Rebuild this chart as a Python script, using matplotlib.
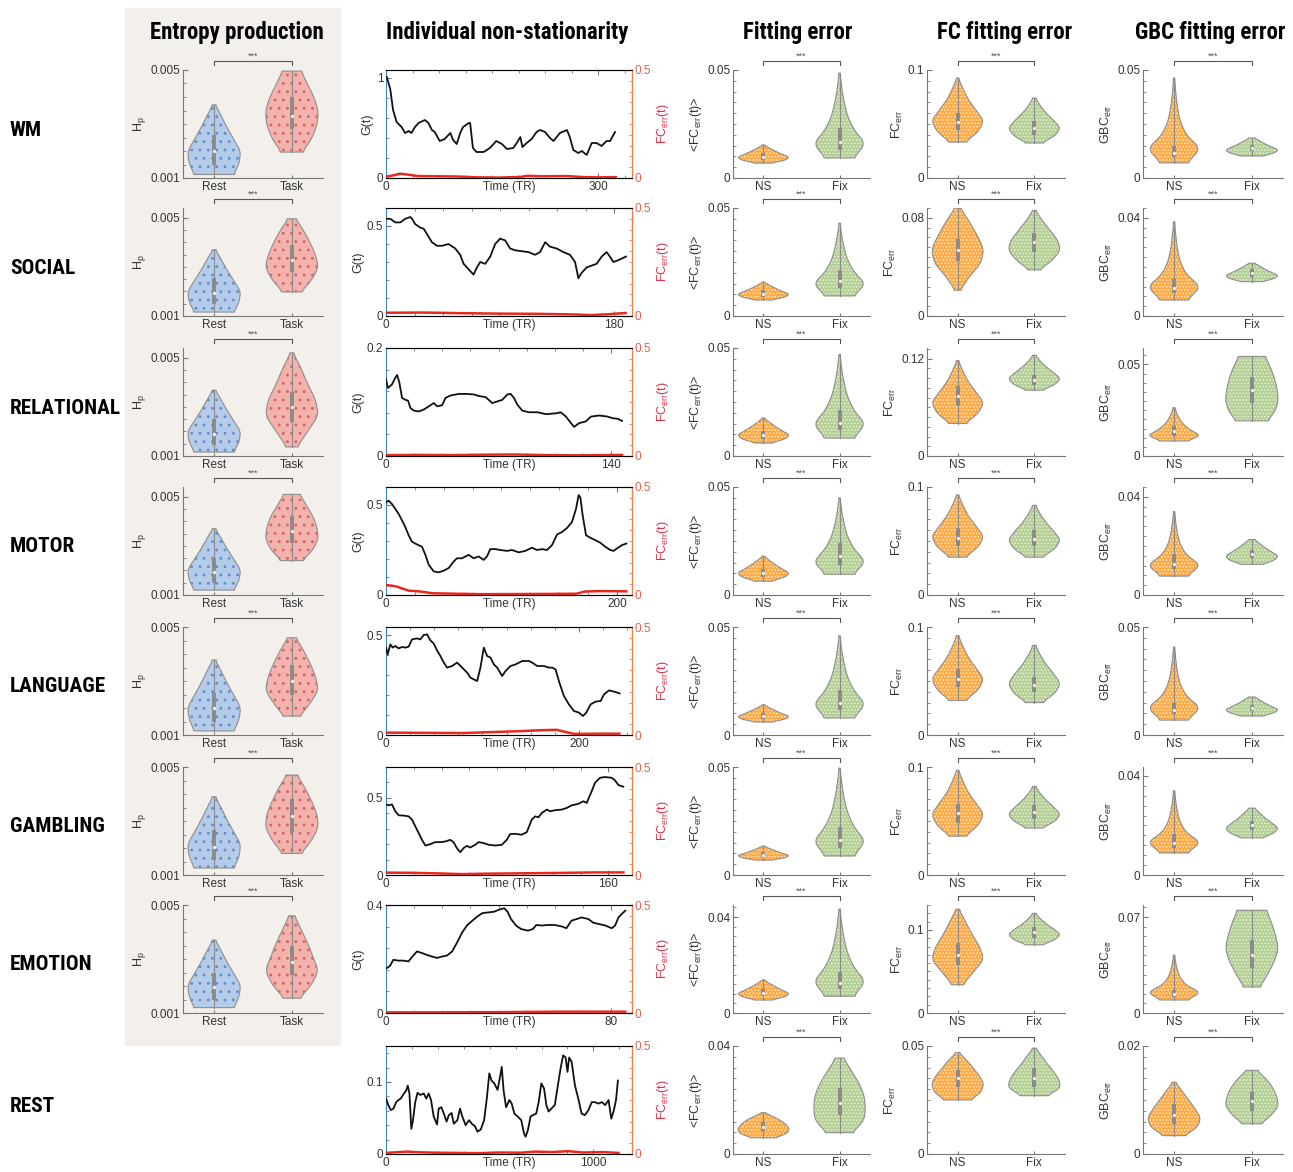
import numpy as np
import matplotlib
matplotlib.use('Agg')
import matplotlib.pyplot as plt
import matplotlib.transforms as mtransforms
from matplotlib import font_manager as fm
from matplotlib.patches import Rectangle
from matplotlib.ticker import MultipleLocator, FixedLocator

plt.rcParams['font.family'] = ['Liberation Sans', 'DejaVu Sans']
plt.rcParams['hatch.linewidth'] = 0.8

rows = ['WM', 'SOCIAL', 'RELATIONAL', 'MOTOR', 'LANGUAGE', 'GAMBLING', 'EMOTION', 'REST']
titles = ['Entropy production', 'Individual non-stationarity', 'Fitting error',
          'FC fitting error', 'GBC fitting error']

# ---------------- individual non-stationarity: G(t) ----------------
wm_t = [1, 6, 10, 15, 22, 27, 32, 36, 41, 46, 55, 60, 65, 69, 76, 83, 91, 95, 100, 105, 109,
        117, 119, 123, 128, 138, 147, 156, 164, 171, 180, 185, 190, 193, 199, 206, 213, 218,
        225, 232, 237, 246, 256, 260, 265, 272, 277, 284, 291, 298, 305, 312, 317, 324]
wm_g = [1.01, 0.89, 0.68, 0.56, 0.51, 0.45, 0.47, 0.45, 0.51, 0.55, 0.58, 0.55, 0.48, 0.46,
        0.37, 0.39, 0.45, 0.38, 0.34, 0.45, 0.51, 0.55, 0.55, 0.30, 0.26, 0.26, 0.30, 0.37,
        0.34, 0.29, 0.30, 0.35, 0.41, 0.31, 0.35, 0.39, 0.46, 0.48, 0.46, 0.40, 0.37, 0.45,
        0.48, 0.41, 0.28, 0.25, 0.27, 0.23, 0.35, 0.35, 0.32, 0.37, 0.37, 0.46]
social_t = [0, 3.4, 7.3, 11.3, 15.2, 19.2, 20.5, 23.1, 27.3, 29.7, 33.6, 36.2, 40.2, 44.1, 49.3,
            54.6, 58.5, 61.2, 65.1, 69, 71.7, 74.3, 78.2, 82.2, 86.1, 90, 94, 97.9, 101.8,
            107.1, 112.3, 117.6, 121.5, 125.5, 129.4, 134.6, 139.9, 145.1, 149.1, 151.7,
            154.3, 158.3, 162.2, 166.1, 170.1, 174, 176.6, 179.3, 183.2, 189.2]
social_g = [0.54, 0.54, 0.52, 0.52, 0.54, 0.55, 0.54, 0.51, 0.49, 0.485, 0.44, 0.41, 0.39,
            0.39, 0.40, 0.375, 0.34, 0.29, 0.26, 0.23, 0.27, 0.30, 0.29, 0.33, 0.40, 0.43,
            0.42, 0.375, 0.365, 0.36, 0.355, 0.34, 0.355, 0.41, 0.385, 0.375, 0.355, 0.34,
            0.30, 0.21, 0.24, 0.27, 0.28, 0.29, 0.33, 0.355, 0.33, 0.30, 0.31, 0.33]
relational_t = [0, 1.2, 3.7, 5.8, 6.9, 8.3, 10, 12.1, 13.7, 15.2, 17.3, 20.4, 23.5, 26.6,
                29.7, 31.8, 34.9, 37, 40.1, 45.3, 49.5, 54.7, 57.8, 62, 66.1, 69.2, 72.3,
                75.5, 77.5, 79.6, 81.7, 84.8, 89, 94.2, 99.4, 105.6, 108.7, 111.9, 115, 117,
                120.2, 124.3, 127.4, 132.6, 137.8, 141, 144.1, 146.8]
relational_g = [0.142, 0.126, 0.1325, 0.145, 0.150, 0.136, 0.1075, 0.104, 0.1025, 0.089,
                0.084, 0.0825, 0.086, 0.092, 0.098, 0.092, 0.094, 0.1075, 0.112, 0.115,
                0.115, 0.114, 0.111, 0.109, 0.098, 0.101, 0.104, 0.114, 0.115, 0.1075, 0.095,
                0.084, 0.081, 0.081, 0.0775, 0.079, 0.081, 0.073, 0.061, 0.054, 0.061, 0.064,
                0.073, 0.075, 0.073, 0.070, 0.069, 0.065]
motor_t = [0, 2.3, 5.2, 8.1, 11, 13.9, 16.7, 19.6, 22.5, 26.8, 31.2, 34.1, 37, 41.3, 45.6,
           49.9, 54.3, 58.6, 61.5, 65.8, 71.6, 75.9, 80.2, 84.6, 87.4, 90.3, 94.7, 99, 104.8,
           109.1, 114.9, 120.6, 126.4, 130.7, 135.1, 139.4, 143.7, 148.1, 152.4, 156.7, 161,
           164.5, 166.8, 168.3, 170.3, 173.2, 176.9, 181.2, 185.6, 189.9, 194.2, 197.1, 200,
           204.3, 208.1]
motor_g = [0.515, 0.524, 0.505, 0.478, 0.45, 0.414, 0.378, 0.332, 0.296, 0.281, 0.268, 0.223,
           0.168, 0.131, 0.126, 0.135, 0.15, 0.186, 0.204, 0.204, 0.223, 0.204, 0.214, 0.195,
           0.214, 0.255, 0.255, 0.25, 0.245, 0.25, 0.237, 0.245, 0.263, 0.25, 0.255, 0.25,
           0.277, 0.336, 0.35, 0.372, 0.405, 0.478, 0.555, 0.542, 0.442, 0.332, 0.318, 0.305,
           0.29, 0.268, 0.25, 0.245, 0.259, 0.277, 0.286]
language_t = [0, 1.7, 4.5, 6.9, 9.7, 13.1, 16.6, 20.1, 23.5, 27, 32.2, 35.6, 39.1, 42.6, 46,
              49.5, 52.9, 56.4, 59.9, 63.3, 68.5, 73.7, 78.9, 84.1, 87.5, 91, 94.5, 97.9,
              101.4, 104.8, 108.3, 111.8, 115.2, 120.4, 123.9, 129.1, 134.3, 141.2, 148.1,
              151.6, 156.7, 163.7, 168.9, 172.3, 175.8, 179.2, 184.4, 189.6, 194.8, 200,
              204.2, 207.6, 212.1, 217.3, 222.5, 226, 231.1, 236.3, 242.2]
language_g = [0.437, 0.403, 0.453, 0.437, 0.445, 0.433, 0.44, 0.437, 0.442, 0.478, 0.483,
              0.478, 0.50, 0.503, 0.473, 0.457, 0.423, 0.395, 0.362, 0.337, 0.345, 0.362,
              0.337, 0.312, 0.287, 0.278, 0.27, 0.337, 0.437, 0.395, 0.387, 0.353, 0.337,
              0.295, 0.32, 0.345, 0.353, 0.37, 0.37, 0.362, 0.345, 0.345, 0.337, 0.337, 0.328,
              0.27, 0.195, 0.153, 0.12, 0.112, 0.095, 0.112, 0.153, 0.167, 0.17, 0.203, 0.223,
              0.217, 0.208]
gambling_t = [0, 1.9, 4.3, 6.7, 9.1, 12.7, 16.3, 18.7, 21.1, 23.5, 25.9, 28.3, 31.9, 35.4, 39,
              42.6, 46.2, 48.6, 51, 53.4, 55.8, 58.2, 60.6, 64.2, 66.6, 70.2, 73.8, 78.6, 83.4,
              86.9, 89.3, 92.9, 97.7, 101.3, 104.9, 107.3, 109.7, 112.1, 115.7, 118.1, 121.7,
              126.5, 130.1, 133.7, 138.4, 142, 144.4, 148, 150.4, 154, 157.6, 162.4, 164.8,
              167.2, 170.8]
gambling_g = [0.457, 0.452, 0.457, 0.413, 0.387, 0.385, 0.38, 0.359, 0.315, 0.272, 0.228,
              0.191, 0.20, 0.213, 0.213, 0.217, 0.228, 0.213, 0.174, 0.148, 0.174, 0.189,
              0.178, 0.196, 0.213, 0.207, 0.196, 0.191, 0.196, 0.228, 0.265, 0.267, 0.261,
              0.278, 0.359, 0.38, 0.374, 0.402, 0.424, 0.413, 0.42, 0.424, 0.435, 0.452,
              0.461, 0.478, 0.467, 0.543, 0.598, 0.63, 0.635, 0.63, 0.613, 0.583, 0.572]
emotion_t = [0.2, 1.4, 2.6, 4.4, 6.2, 8, 9.2, 11, 12.8, 14.6, 16.4, 18.1, 19.9, 21.7, 23.5,
             25.3, 27.1, 28.9, 30.7, 32.5, 34.3, 36.7, 38.4, 40.2, 42, 43.2, 44.4, 46.2, 48,
             50.4, 52.2, 53.4, 55.2, 57.6, 59.9, 62.3, 64.1, 65.9, 67.7, 69.5, 71.9, 73.7,
             75.5, 77.9, 80.2, 81.4, 82.6, 83.8, 85]
emotion_g = [0.166, 0.174, 0.197, 0.194, 0.194, 0.191, 0.207, 0.228, 0.222, 0.215, 0.209,
             0.204, 0.209, 0.213, 0.228, 0.262, 0.299, 0.326, 0.342, 0.358, 0.37, 0.373,
             0.375, 0.383, 0.388, 0.375, 0.348, 0.324, 0.311, 0.305, 0.311, 0.326, 0.324,
             0.326, 0.326, 0.321, 0.314, 0.342, 0.348, 0.354, 0.348, 0.334, 0.33, 0.324,
             0.314, 0.324, 0.354, 0.367, 0.379]
rest_t = [0, 11, 23, 36, 49, 60, 71, 84, 97, 105, 113, 122, 130, 141, 152, 165, 182, 194, 206,
          217, 230, 246, 254, 267, 279, 292, 303, 316, 327, 344, 357, 368, 384, 400, 417, 428,
          441, 457, 473, 486, 498, 509, 522, 538, 551, 558, 567, 579, 595, 606, 619, 635, 652,
          665, 673, 684, 697, 708, 724, 736, 749, 762, 773, 784, 797, 814, 830, 843, 854, 866,
          875, 883, 895, 911, 927, 943, 959, 976, 992, 1008, 1024, 1041, 1057, 1073, 1086,
          1097, 1109, 1118]
rest_g = [0.077, 0.068, 0.061, 0.063, 0.072, 0.075, 0.077, 0.083, 0.088, 0.095, 0.084, 0.035,
          0.047, 0.072, 0.085, 0.082, 0.084, 0.077, 0.084, 0.075, 0.052, 0.041, 0.063, 0.065,
          0.056, 0.045, 0.054, 0.057, 0.042, 0.047, 0.063, 0.052, 0.040, 0.047, 0.041, 0.039,
          0.031, 0.034, 0.047, 0.077, 0.112, 0.102, 0.098, 0.089, 0.109, 0.121, 0.088, 0.065,
          0.075, 0.070, 0.056, 0.052, 0.047, 0.029, 0.024, 0.033, 0.052, 0.054, 0.056, 0.072,
          0.098, 0.091, 0.068, 0.059, 0.063, 0.068, 0.098, 0.121, 0.137, 0.134, 0.114, 0.134,
          0.128, 0.095, 0.077, 0.056, 0.054, 0.061, 0.072, 0.072, 0.070, 0.072, 0.068, 0.075,
          0.049, 0.059, 0.075, 0.102]

# FC_err(t) (right axis)
wm_et = [0, 10, 20, 30, 45, 70, 100, 130, 160, 190, 200, 220, 256, 280, 300, 325]
wm_e = [0.006, 0.012, 0.020, 0.016, 0.009, 0.008, 0.007, 0.003, 0.002, 0.005, 0.010, 0.008,
        0.009, 0.004, 0.003, 0.004]
social_et = [0, 30, 60, 90, 120, 150, 160, 175, 189]
social_e = [0.015, 0.016, 0.013, 0.011, 0.010, 0.007, 0.004, 0.008, 0.014]
relational_et = [0, 20, 40, 60, 80, 100, 120, 146.8]
relational_e = [0.004, 0.005, 0.004, 0.006, 0.007, 0.004, 0.003, 0.005]
motor_et = [0, 5, 10, 15, 20, 30, 40, 60, 80, 100, 140, 165, 172, 185, 208]
motor_e = [0.046, 0.043, 0.038, 0.028, 0.020, 0.016, 0.008, 0.006, 0.004, 0.004, 0.005,
           0.006, 0.016, 0.018, 0.017]
language_et = [0, 40, 80, 100, 120, 140, 160, 177, 185, 195, 220, 242]
language_e = [0.011, 0.010, 0.009, 0.012, 0.015, 0.018, 0.022, 0.024, 0.015, 0.005, 0.006,
              0.006]
gambling_et = [0, 20, 40, 55, 70, 100, 130, 150, 170.8]
gambling_e = [0.011, 0.010, 0.007, 0.004, 0.006, 0.008, 0.010, 0.012, 0.012]
emotion_et = [0, 20, 40, 60, 85]
emotion_e = [0.003, 0.003, 0.004, 0.006, 0.006]
rest_et = [0, 50, 100, 160, 250, 350, 450, 550, 650, 720, 800, 880, 950, 1050, 1118]
rest_e = [0.005, 0.008, 0.011, 0.008, 0.006, 0.005, 0.004, 0.007, 0.006, 0.011, 0.009,
          0.013, 0.007, 0.009, 0.005]

g_t = [wm_t, social_t, relational_t, motor_t, language_t, gambling_t, emotion_t, rest_t]
g_v = [wm_g, social_g, relational_g, motor_g, language_g, gambling_g, emotion_g, rest_g]
e_t = [wm_et, social_et, relational_et, motor_et, language_et, gambling_et, emotion_et, rest_et]
e_v = [wm_e, social_e, relational_e, motor_e, language_e, gambling_e, emotion_e, rest_e]
ts_xmax = [348, 194, 153, 213, 255, 177, 87.4, 1186]
ts_xtick = [300, 180, 140, 200, 200, 160, 80, 1000]
ts_ymax = [1.08, 0.6, 0.2, 0.6, 0.54, 0.7, 0.4, 0.15]
ts_ytick = [1, 0.5, 0.2, 0.5, 0.5, 0.5, 0.4, 0.1]
ts_has_ylabel = [True, True, True, True, False, False, True, False]

# ---------------- violins: [min, q1, median, q3, max] and outline widths (min -> max) ----------------
ep_rest = [[0.00113, 0.00150, 0.00200, 0.00260, 0.00371],
           [0.00116, 0.00150, 0.00195, 0.00255, 0.00370],
           [0.00116, 0.00145, 0.00190, 0.00250, 0.00368],
           [0.00120, 0.00150, 0.00195, 0.00250, 0.00370],
           [0.00115, 0.00150, 0.00200, 0.00255, 0.00378],
           [0.00126, 0.00155, 0.00205, 0.00265, 0.00390],
           [0.00120, 0.00150, 0.00195, 0.00250, 0.00370]]
ep_rest_w = [[0.75, 0.95, 1.0, 0.75, 0.5, 0.28, 0.05]] * 7
ep_task = [[0.00196, 0.00280, 0.00330, 0.00400, 0.00496],
           [0.00198, 0.00280, 0.00330, 0.00390, 0.00496],
           [0.00137, 0.00240, 0.00300, 0.00360, 0.00520],
           [0.00240, 0.00310, 0.00360, 0.00420, 0.00510],
           [0.00170, 0.00250, 0.00300, 0.00360, 0.00460],
           [0.00180, 0.00260, 0.00320, 0.00380, 0.00470],
           [0.00155, 0.00240, 0.00290, 0.00350, 0.00460]]
ep_task_w = [[0.40, 0.75, 0.95, 1.0, 0.85, 0.6, 0.35],
             [0.35, 0.75, 1.0, 0.9, 0.7, 0.45, 0.15],
             [0.20, 0.6, 1.0, 0.9, 0.6, 0.35, 0.05],
             [0.40, 0.8, 1.0, 0.95, 0.8, 0.55, 0.3],
             [0.30, 0.7, 1.0, 0.9, 0.7, 0.45, 0.15],
             [0.35, 0.75, 1.0, 0.95, 0.75, 0.5, 0.2],
             [0.30, 0.75, 1.0, 0.8, 0.6, 0.35, 0.1]]
ep_ymax = [0.005, 0.0054, 0.0054, 0.0054, 0.005, 0.005, 0.005]

fit_ns = [[0.0069, 0.0085, 0.0097, 0.0115, 0.0153],
          [0.0074, 0.0090, 0.0102, 0.0120, 0.0157],
          [0.0060, 0.0080, 0.0095, 0.0115, 0.0176],
          [0.0064, 0.0085, 0.0100, 0.0120, 0.0180],
          [0.0060, 0.0075, 0.0088, 0.0102, 0.0140],
          [0.0069, 0.0082, 0.0092, 0.0105, 0.0134],
          [0.0054, 0.0070, 0.0082, 0.0098, 0.0138],
          [0.0060, 0.0085, 0.0100, 0.0118, 0.0153]]
fit_ns_w = [[0.3, 0.85, 1.0, 0.7, 0.45, 0.22, 0.03]] * 7 + [[0.45, 0.9, 1.0, 0.9, 0.7, 0.4, 0.05]]
fit_fix = [[0.0093, 0.0130, 0.0165, 0.0230, 0.0486],
           [0.0093, 0.0130, 0.0160, 0.0215, 0.0430],
           [0.0083, 0.0120, 0.0155, 0.0215, 0.0470],
           [0.0096, 0.0140, 0.0180, 0.0240, 0.0450],
           [0.0079, 0.0115, 0.0150, 0.0210, 0.0460],
           [0.0088, 0.0125, 0.0160, 0.0220, 0.0495],
           [0.0070, 0.0100, 0.0125, 0.0170, 0.0433],
           [0.0079, 0.0145, 0.0190, 0.0245, 0.0355]]
fit_fix_w = [[0.55, 1.0, 0.55, 0.3, 0.17, 0.08, 0.02]] * 7 + [[0.5, 0.95, 1.0, 0.95, 0.75, 0.45, 0.15]]
fit_ymax = [0.05, 0.05, 0.05, 0.05, 0.05, 0.05, 0.045, 0.04]
fit_ytick = [0.05, 0.05, 0.05, 0.05, 0.05, 0.05, 0.04, 0.04]

fc_ns = [[0.0333, 0.0440, 0.0520, 0.0600, 0.0926],
         [0.0210, 0.0450, 0.0540, 0.0630, 0.0880],
         [0.0400, 0.0620, 0.0740, 0.0860, 0.1175],
         [0.0350, 0.0450, 0.0530, 0.0620, 0.0927],
         [0.0320, 0.0440, 0.0520, 0.0610, 0.0920],
         [0.0360, 0.0480, 0.0570, 0.0660, 0.0970],
         [0.0340, 0.0580, 0.0700, 0.0840, 0.1250],
         [0.0250, 0.0310, 0.0350, 0.0390, 0.0470]]
fc_ns_w = [[0.3, 0.8, 1.0, 0.7, 0.4, 0.2, 0.03],
           [0.1, 0.45, 0.9, 1.0, 0.75, 0.45, 0.1],
           [0.3, 0.8, 1.0, 0.7, 0.4, 0.2, 0.03],
           [0.3, 0.8, 1.0, 0.7, 0.4, 0.2, 0.03],
           [0.3, 0.8, 1.0, 0.7, 0.4, 0.2, 0.03],
           [0.3, 0.8, 1.0, 0.7, 0.4, 0.2, 0.03],
           [0.2, 0.6, 1.0, 0.85, 0.55, 0.3, 0.05],
           [0.5, 0.9, 1.0, 0.85, 0.6, 0.35, 0.05]]
fc_fix = [[0.0324, 0.0400, 0.0460, 0.0530, 0.0740],
          [0.0376, 0.0520, 0.0600, 0.0680, 0.0860],
          [0.0810, 0.0880, 0.0940, 0.1000, 0.1240],
          [0.0350, 0.0450, 0.0520, 0.0600, 0.0830],
          [0.0300, 0.0400, 0.0460, 0.0540, 0.0830],
          [0.0435, 0.0520, 0.0580, 0.0650, 0.0820],
          [0.0820, 0.0900, 0.0970, 0.1040, 0.1200],
          [0.0270, 0.0310, 0.0350, 0.0400, 0.0490]]
fc_fix_w = [[0.3, 0.8, 1.0, 0.75, 0.45, 0.22, 0.05],
            [0.2, 0.7, 1.0, 0.9, 0.6, 0.3, 0.05]] + [[0.3, 0.8, 1.0, 0.75, 0.45, 0.22, 0.05]] * 5 + \
           [[0.5, 1.0, 0.95, 0.75, 0.5, 0.28, 0.05]]
fc_ymax = [0.1, 0.088, 0.133, 0.1, 0.1, 0.1, 0.13, 0.05]
fc_ytick = [0.1, 0.08, 0.12, 0.1, 0.1, 0.1, 0.1, 0.05]

gbc_ns = [[0.0070, 0.0095, 0.0115, 0.0150, 0.0463],
          [0.0065, 0.0095, 0.0115, 0.0150, 0.0384],
          [0.0082, 0.0110, 0.0135, 0.0165, 0.0264],
          [0.0077, 0.0105, 0.0125, 0.0165, 0.0340],
          [0.0069, 0.0095, 0.0115, 0.0150, 0.0407],
          [0.0089, 0.0110, 0.0130, 0.0165, 0.0340],
          [0.0095, 0.0120, 0.0140, 0.0170, 0.0423],
          [0.0034, 0.0055, 0.0072, 0.0092, 0.0133]]
gbc_ns_w = [[0.5, 1.0, 0.45, 0.22, 0.12, 0.06, 0.02]] * 2 + [[0.5, 1.0, 0.6, 0.35, 0.2, 0.1, 0.03]] + \
           [[0.5, 1.0, 0.45, 0.22, 0.12, 0.06, 0.02]] * 4 + [[0.4, 0.9, 1.0, 0.8, 0.55, 0.3, 0.05]]
gbc_fix = [[0.0102, 0.0125, 0.0140, 0.0155, 0.0185],
           [0.0140, 0.0160, 0.0175, 0.0190, 0.0215],
           [0.0192, 0.0290, 0.0360, 0.0430, 0.0544],
           [0.0125, 0.0150, 0.0165, 0.0185, 0.0226],
           [0.0088, 0.0110, 0.0125, 0.0140, 0.0176],
           [0.0150, 0.0180, 0.0200, 0.0220, 0.0270],
           [0.0190, 0.0330, 0.0420, 0.0530, 0.0750],
           [0.0056, 0.0080, 0.0098, 0.0115, 0.0155]]
gbc_fix_w = [[0.4, 0.85, 1.0, 0.75, 0.5, 0.3, 0.1]] * 2 + [[0.6, 0.9, 1.0, 0.95, 0.85, 0.7, 0.5]] + \
            [[0.4, 0.85, 1.0, 0.75, 0.5, 0.3, 0.1]] * 3 + [[0.3, 0.6, 0.85, 1.0, 0.9, 0.75, 0.55]] + \
            [[0.35, 0.75, 1.0, 0.95, 0.8, 0.55, 0.2]]
gbc_ymax = [0.05, 0.044, 0.059, 0.044, 0.05, 0.0436, 0.0788, 0.02]
gbc_ytick = [0.05, 0.04, 0.05, 0.04, 0.05, 0.04, 0.07, 0.02]

# ---------------- layout (pixels of the 1293 x 1172 canvas) ----------------
W, H = 1293, 1172
row_top = [70, 208, 348, 487, 627, 767, 905, 1046]
ax_h = 108
cols_px = [(183, 323), (386, 632), (733, 870), (927, 1065), (1143, 1283)]
title_x = [237, 507, 798, 1005, 1210]

c_rest, c_rest_dot = '#b5cbea', '#5f8ccc'
c_task, c_task_dot = '#f3b2ac', '#d5605f'
c_ns, c_ns_dot = '#fdaa45', '#ffe6c4'
c_fix, c_fix_dot = '#b3cf94', '#e6f0d8'
c_edge = '#8e8e8e'
c_box = '#8a8a8a'
c_txt = '#333333'
c_ax = '#777777'


# heavy condensed face for headings, if one is installed
def pick_heading_font():
    for fam, stretch in [('Liberation Sans Narrow', 'normal'), ('Roboto Condensed', 'normal'),
                         ('Open Sans Condensed', 'normal'), ('Noto Sans', 'condensed'),
                         ('Roboto', 'normal')]:
        try:
            path = fm.findfont(fm.FontProperties(family=fam, weight='bold', stretch=stretch),
                               fallback_to_default=False)
        except ValueError:
            continue
        if stretch == 'condensed' and 'ondensed' not in path:
            continue
        return fam, stretch, ('ondensed' in path or 'Narrow' in fam)
    return 'DejaVu Sans', 'normal', False


head_fam, head_stretch, head_narrow = pick_heading_font()
head_size = 16.5 if head_narrow else 12.5
row_size = 15.3 if head_narrow else 12
head_weight = 'heavy' if head_narrow else 'bold'

fig = plt.figure(figsize=(W / 100, H / 100), dpi=100)
fig.patches.append(Rectangle((125 / W, 1 - 1045 / H), 215 / W, 1037 / H,
                             transform=fig.transFigure, color='#f3f0eb', zorder=-10))


def px_axes(x0, x1, top):
    return fig.add_axes([x0 / W, 1 - (top + ax_h) / H, (x1 - x0) / W, ax_h / H])


def violin(ax, x, st, wid, face, dot, hatch):
    lo, q1, med, q3, hi = st
    yy = np.linspace(lo, hi, 160)
    ww = np.interp(yy, np.linspace(lo, hi, len(wid)), wid)
    ww = np.convolve(np.pad(ww, 10, mode='edge'), np.ones(21) / 21, mode='valid')
    half = 0.34 * ww
    xs = np.concatenate([x - half, (x + half)[::-1]])
    ys = np.concatenate([yy, yy[::-1]])
    ax.fill(xs, ys, facecolor=face, edgecolor='none', zorder=2)
    ax.fill(xs, ys, facecolor='none', edgecolor=dot, hatch=hatch, lw=0, zorder=3)
    ax.fill(xs, ys, facecolor='none', edgecolor=c_edge, lw=0.8, zorder=4)
    ax.plot([x, x], [lo, hi], color=c_box, lw=0.8, zorder=5)
    ax.plot([x, x], [q1, q3], color=c_box, lw=2.8, solid_capstyle='butt', zorder=6)
    ax.plot([x], [med], 'o', ms=2.4, mfc='#eeeeee', mec='none', zorder=7)


def style_violin_axes(ax, ylo, yhi, ytop, minor, labels, ylabel):
    ax.set_xlim(0.6, 2.4)
    ax.set_ylim(ylo, yhi)
    ax.set_facecolor('none')
    for s in ['top', 'right']:
        ax.spines[s].set_visible(False)
    for s in ['left', 'bottom']:
        ax.spines[s].set_color(c_ax)
        ax.spines[s].set_linewidth(0.8)
    ax.yaxis.set_major_locator(FixedLocator([ylo, ytop]))
    ax.yaxis.set_minor_locator(MultipleLocator(minor))
    ax.set_yticklabels([f'{ylo:g}', f'{ytop:g}'])
    ax.set_xticks([1, 2])
    ax.set_xticklabels(labels)
    ax.tick_params(axis='both', which='both', direction='in', colors=c_ax, labelcolor=c_txt,
                   labelsize=8.5, pad=2)
    ax.tick_params(axis='y', which='major', length=3.5)
    ax.tick_params(axis='y', which='minor', length=2)
    ax.tick_params(axis='x', length=2.5)
    ax.set_ylabel(ylabel, fontsize=9, color=c_txt, labelpad=2)
    tr = mtransforms.blended_transform_factory(ax.transData, ax.transAxes)
    ax.plot([1, 1, 2, 2], [1.045, 1.083, 1.083, 1.045], transform=tr, color='#555555', lw=0.8,
            clip_on=False)
    ax.text(1.5, 1.09, '***', transform=tr, ha='center', va='bottom', fontsize=6.5,
            color='#555555')


# column titles and row labels
for x, t in zip(title_x, titles):
    fig.text(x / W, 1 - 33 / H, t, ha='center', va='center', fontsize=head_size,
             fontweight=head_weight, family=[head_fam, 'DejaVu Sans'], fontstretch=head_stretch)
for i, r in enumerate(rows):
    fig.text(10 / W, 1 - (row_top[i] + 60) / H, r, ha='left', va='center', fontsize=row_size,
             fontweight=head_weight, family=[head_fam, 'DejaVu Sans'], fontstretch=head_stretch)

for i in range(8):
    top = row_top[i]
    # entropy production
    if i < 7:
        ax = px_axes(*cols_px[0], top)
        violin(ax, 1, ep_rest[i], ep_rest_w[i], c_rest, c_rest_dot, '..')
        violin(ax, 2, ep_task[i], ep_task_w[i], c_task, c_task_dot, '..')
        style_violin_axes(ax, 0.001, ep_ymax[i], 0.005, 0.0005, ['Rest', 'Task'],
                          r'$\mathregular{H_p}$')

    # non-stationarity time series
    ax = px_axes(*cols_px[1], top)
    ax.plot(g_t[i], g_v[i], color='#111111', lw=1.3, zorder=3)
    ax.set_xlim(0, ts_xmax[i])
    ax.set_ylim(0, ts_ymax[i])
    ax.set_xticks([0, ts_xtick[i]])
    ax.xaxis.set_minor_locator(MultipleLocator(ts_xtick[i] / 8))
    ax.set_yticks([0, ts_ytick[i]])
    ax.set_yticklabels(['0', f'{ts_ytick[i]:g}'])
    ax.yaxis.set_minor_locator(MultipleLocator(ts_ytick[i] / 5))
    ax.tick_params(axis='both', which='both', direction='in', top=True, colors=c_ax,
                   labelcolor=c_txt, labelsize=8.5, pad=2)
    ax.tick_params(which='major', length=3.5)
    ax.tick_params(which='minor', length=2)
    ax.spines['left'].set_color('#3f86c6')
    ax.spines['top'].set_color(c_ax)
    ax.spines['bottom'].set_color(c_ax)
    if ts_has_ylabel[i]:
        ax.set_ylabel('G(t)', fontsize=9, color=c_txt, labelpad=2)
    ax.annotate('Time (TR)', xy=(0.5, 0), xycoords='axes fraction', xytext=(0, -2.5),
                textcoords='offset points', ha='center', va='top', fontsize=8.5, color=c_txt)
    ax2 = ax.twinx()
    ax2.plot(e_t[i], e_v[i], color='#e8281e', lw=1.8, zorder=3)
    ax2.set_ylim(0, 0.5)
    ax2.set_yticks([0, 0.5])
    ax2.set_yticklabels(['0', '0.5'])
    ax2.yaxis.set_minor_locator(MultipleLocator(0.05))
    ax2.tick_params(axis='y', which='both', direction='in', colors='#e9834a',
                    labelcolor='#e0604a', labelsize=8.5, pad=2)
    ax2.tick_params(which='major', length=3.5)
    ax2.tick_params(which='minor', length=2)
    ax2.spines['right'].set_color('#e9834a')
    ax2.spines['left'].set_visible(False)
    ax2.set_ylabel(r'$\mathregular{FC_{err}}$(t)', fontsize=9, color='#d8334a', labelpad=3)

    # fitting error
    ax = px_axes(*cols_px[2], top)
    violin(ax, 1, fit_ns[i], fit_ns_w[i], c_ns, c_ns_dot, '.....')
    violin(ax, 2, fit_fix[i], fit_fix_w[i], c_fix, c_fix_dot, '.....')
    style_violin_axes(ax, 0, fit_ymax[i], fit_ytick[i], fit_ytick[i] / 10, ['NS', 'Fix'],
                      r'<$\mathregular{FC_{err}}$(t)>')

    # FC fitting error
    ax = px_axes(*cols_px[3], top)
    violin(ax, 1, fc_ns[i], fc_ns_w[i], c_ns, c_ns_dot, '.....')
    violin(ax, 2, fc_fix[i], fc_fix_w[i], c_fix, c_fix_dot, '.....')
    style_violin_axes(ax, 0, fc_ymax[i], fc_ytick[i], fc_ytick[i] / 10, ['NS', 'Fix'],
                      r'$\mathregular{FC_{err}}$')

    # GBC fitting error
    ax = px_axes(*cols_px[4], top)
    violin(ax, 1, gbc_ns[i], gbc_ns_w[i], c_ns, c_ns_dot, '.....')
    violin(ax, 2, gbc_fix[i], gbc_fix_w[i], c_fix, c_fix_dot, '.....')
    style_violin_axes(ax, 0, gbc_ymax[i], gbc_ytick[i], gbc_ytick[i] / 10, ['NS', 'Fix'],
                      r'$\mathregular{GBC_{err}}$')

fig.savefig('out.png', dpi=100)
